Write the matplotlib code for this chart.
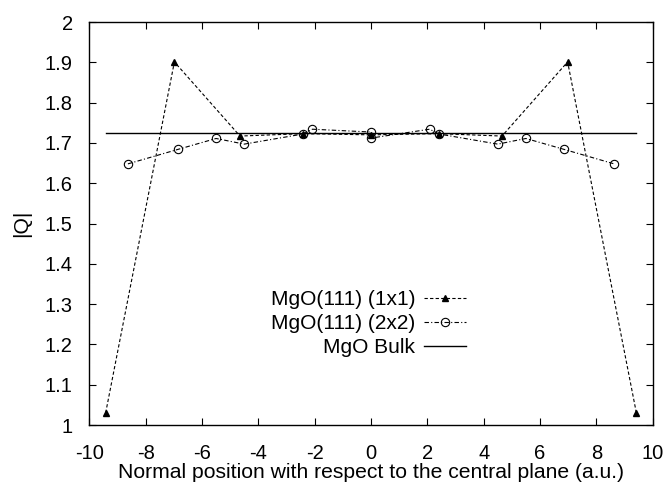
import numpy as np
import matplotlib
matplotlib.use("Agg")
import matplotlib.pyplot as plt

plt.rcParams['font.family'] = ['Liberation Sans', 'DejaVu Sans']
plt.rcParams['font.size'] = 14.5

# MgO(111) (1x1)
x_1x1 = [-9.42, -6.98, -4.65, -2.40, 0.0, 2.40, 4.65, 6.98, 9.42]
q_1x1 = [1.030, 1.901, 1.717, 1.723, 1.720, 1.723, 1.717, 1.901, 1.030]

# MgO(111) (2x2)
x_2x2 = [-8.63, -6.85, -5.50, -4.50, -2.42, -2.08, 0.0, 0.0,
         2.08, 2.42, 4.50, 5.50, 6.85, 8.63]
q_2x2 = [1.648, 1.684, 1.711, 1.697, 1.722, 1.734, 1.727, 1.712,
         1.734, 1.722, 1.697, 1.711, 1.684, 1.648]

# MgO bulk
x_bulk = [-9.42, 9.42]
q_bulk = [1.724, 1.724]

fig = plt.figure()
fig.set_size_inches(6.64, 4.86)
ax = fig.add_axes([0.1345, 0.1255, 0.8485, 0.8292])

ax.plot(x_1x1, q_1x1, color='k', lw=0.8, ls=(0, (3, 2)), marker='^',
        ms=4, label="MgO(111) (1x1)")
ax.plot(x_2x2, q_2x2, color='k', lw=0.8, ls=(0, (4, 2, 1, 2)), marker='o',
        ms=6, mfc='none', mew=0.8, label="MgO(111) (2x2)")
ax.plot(x_bulk, q_bulk, color='k', lw=1.0, label="MgO Bulk")

ax.set_xlim(-10, 10)
ax.set_ylim(1, 2)
ax.set_xticks(np.arange(-10, 10.1, 2))
ax.set_yticks(np.arange(1, 2.01, 0.1))
ax.set_xticklabels([f"{v:g}" for v in np.arange(-10, 10.1, 2)])
ax.set_yticklabels([f"{v:g}" for v in np.round(np.arange(1, 2.01, 0.1), 1)])
ax.tick_params(direction='in', length=5, width=0.8, top=True, right=True)
ax.tick_params(axis='x', pad=14)
ax.tick_params(axis='y', pad=12)
for s in ax.spines.values():
    s.set_linewidth(1.0)

ax.set_xlabel("Normal position with respect to the central plane (a.u.)",
              fontsize=15.25, labelpad=0)
ax.set_ylabel("|Q|", fontsize=15.25, labelpad=10)

ax.legend(loc='upper right', bbox_to_anchor=(0.7018, 0.4032),
          bbox_transform=fig.transFigure, frameon=False, markerfirst=False,
          fontsize=15, handlelength=2.0, handletextpad=0.43, labelspacing=0.24,
          borderpad=0, borderaxespad=0)

fig.savefig("out.png", dpi=100)
